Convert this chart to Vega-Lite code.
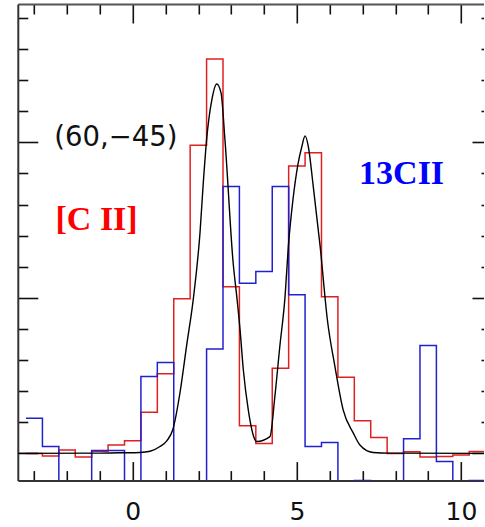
{
  "$schema": "https://vega.github.io/schema/vega-lite/v6.json",
  "autosize": "none",
  "width": 466.2,
  "height": 476.6,
  "padding": {"left": 17.8, "top": 4, "right": 0, "bottom": 46.4},
  "background": "white",
  "config": {"view": {"stroke": null}, "axis": {"grid": false, "title": null, "labels": false, "domain": false, "tickColor": "#111", "tickWidth": 1.6, "domainColor": "#333", "domainWidth": 2}},
  "datasets": {
    "red": [
      {"v": -3.25, "t": 0.0}, {"v": -2.75, "t": -0.08}, {"v": -2.25, "t": 0.11}, {"v": -1.75, "t": -0.12},
      {"v": -1.25, "t": 0.07}, {"v": -0.75, "t": 0.27}, {"v": -0.25, "t": 0.41}, {"v": 0.25, "t": 1.32},
      {"v": 0.75, "t": 2.56}, {"v": 1.25, "t": 4.97}, {"v": 1.75, "t": 9.91}, {"v": 2.25, "t": 12.68},
      {"v": 2.75, "t": 5.36}, {"v": 3.25, "t": 0.89}, {"v": 3.75, "t": 0.32}, {"v": 4.25, "t": 2.74},
      {"v": 4.75, "t": 9.24}, {"v": 5.25, "t": 9.67}, {"v": 5.75, "t": 5.04}, {"v": 6.25, "t": 2.45},
      {"v": 6.75, "t": 1.05}, {"v": 7.25, "t": 0.51}, {"v": 7.75, "t": 0.0}, {"v": 8.25, "t": 0.05},
      {"v": 8.75, "t": -0.12}, {"v": 9.25, "t": -0.1}, {"v": 9.75, "t": -0.05}, {"v": 10.25, "t": 0.06},
      {"v": 10.75, "t": 0.06}
    ],
    "blue": [
      {"v": -3.25, "t": 1.13}, {"v": -2.75, "t": 0.22}, {"v": -2.25, "t": -1.0}, {"v": -1.75, "t": -1.0},
      {"v": -1.25, "t": 0.09}, {"v": -0.75, "t": 0.09}, {"v": -0.25, "t": -1.0}, {"v": 0.25, "t": 2.47},
      {"v": 0.75, "t": 2.92}, {"v": 1.25, "t": -1.0}, {"v": 1.75, "t": -1.0}, {"v": 2.25, "t": 3.36},
      {"v": 2.75, "t": 8.58}, {"v": 3.25, "t": 5.47}, {"v": 3.75, "t": 5.85}, {"v": 4.25, "t": 8.58},
      {"v": 4.75, "t": 5.1}, {"v": 5.25, "t": 0.22}, {"v": 5.75, "t": 0.35}, {"v": 6.25, "t": -1.0},
      {"v": 6.75, "t": -0.875}, {"v": 7.25, "t": -1.0}, {"v": 7.75, "t": -1.0}, {"v": 8.25, "t": 0.47},
      {"v": 8.75, "t": 3.47}, {"v": 9.25, "t": -0.26}, {"v": 9.75, "t": -1.0}, {"v": 10.25, "t": -0.875},
      {"v": 10.75, "t": -0.875}
    ],
    "fit": [
      {"v": -3.5, "t": 0.0}, {"v": -1.0, "t": 0.01}, {"v": -0.39, "t": 0.02}, {"v": 0.22, "t": 0.03},
      {"v": 0.53, "t": 0.07}, {"v": 0.83, "t": 0.22}, {"v": 1.05, "t": 0.42}, {"v": 1.22, "t": 0.76},
      {"v": 1.44, "t": 1.95}, {"v": 1.64, "t": 3.45}, {"v": 1.85, "t": 5.0}, {"v": 2.05, "t": 7.1},
      {"v": 2.15, "t": 8.7}, {"v": 2.25, "t": 10.08}, {"v": 2.41, "t": 11.37}, {"v": 2.56, "t": 11.88}, {"v": 2.69, "t": 11.59},
      {"v": 2.81, "t": 10.08}, {"v": 3.06, "t": 6.12}, {"v": 3.17, "t": 5.04}, {"v": 3.27, "t": 3.97},
      {"v": 3.37, "t": 2.68}, {"v": 3.52, "t": 1.4}, {"v": 3.73, "t": 0.43}, {"v": 3.78, "t": 0.38},
      {"v": 4.18, "t": 0.54}, {"v": 4.33, "t": 1.83}, {"v": 4.48, "t": 3.43}, {"v": 4.64, "t": 5.04},
      {"v": 4.74, "t": 6.65}, {"v": 4.88, "t": 8.15}, {"v": 5.03, "t": 9.28}, {"v": 5.15, "t": 9.86},
      {"v": 5.25, "t": 10.21}, {"v": 5.35, "t": 9.86}, {"v": 5.5, "t": 8.58}, {"v": 5.71, "t": 6.65},
      {"v": 5.93, "t": 4.29}, {"v": 6.16, "t": 2.79}, {"v": 6.41, "t": 1.4}, {"v": 6.72, "t": 0.65},
      {"v": 6.92, "t": 0.27}, {"v": 7.32, "t": 0.03}, {"v": 7.84, "t": 0.01}, {"v": 10.7, "t": 0.0}
    ]
  },
  "resolve": {"axis": {"x": "independent", "y": "independent"}},
  "encoding": {
    "x": {"field": "v", "type": "quantitative", "scale": {"domain": [-3.5, 10.7], "nice": false, "zero": false}},
    "y": {"field": "t", "type": "quantitative", "scale": {"domain": [-0.875, 14.45], "nice": false, "zero": false}}
  },
  "layer": [
    {
      "data": {"name": "red"},
      "mark": {"type": "line", "interpolate": "step-after", "color": "#e02020", "strokeWidth": 1.5, "clip": true},
      "encoding": {
        "x": {"field": "v", "type": "quantitative", "axis": {"orient": "bottom", "values": [-3,-2,-1,0,1,2,3,4,5,6,7,8,9,10], "tickSize": {"condition": {"test": "datum.value % 5 === 0", "value": -19}, "value": -10}, "domain": true}},
        "y": {"field": "t", "type": "quantitative", "axis": {"orient": "left", "values": [0,1,2,3,4,5,6,7,8,9,10,11,12,13,14], "tickSize": {"condition": {"test": "datum.value % 5 === 0", "value": -20}, "value": -10}, "domain": true}}
      }
    },
    {
      "data": {"name": "blue"},
      "mark": {"type": "line", "interpolate": "step-after", "color": "#2020d0", "strokeWidth": 1.5, "clip": true},
      "encoding": {
        "x": {"field": "v", "type": "quantitative", "axis": {"orient": "top", "values": [-3,-2,-1,0,1,2,3,4,5,6,7,8,9,10], "tickSize": {"condition": {"test": "datum.value % 5 === 0", "value": -19}, "value": -10}, "domain": true, "domainColor": "#555"}},
        "y": {"field": "t", "type": "quantitative", "axis": {"orient": "right", "values": [0,1,2,3,4,5,6,7,8,9,10,11,12,13,14], "tickSize": {"condition": {"test": "datum.value % 5 === 0", "value": -12}, "value": -3}}}
      }
    },
    {
      "data": {"name": "fit"},
      "mark": {"type": "line", "interpolate": "monotone", "color": "#000000", "strokeWidth": 1.4, "clip": true},
      "encoding": {
        "x": {"field": "v", "type": "quantitative", "axis": {"orient": "bottom", "values": [0, 5, 10], "ticks": false, "labels": true, "labelFont": "DejaVu Sans", "labelFontSize": 25, "labelColor": "#111", "labelPadding": 19, "labelFlush": false}},
        "y": {"field": "t", "type": "quantitative", "axis": null}
      }
    },
    {
      "data": {"values": [{"v": -0.51, "t": 10.14, "s": "(60,−45)"}]},
      "mark": {"type": "text", "font": "DejaVu Sans", "fontSize": 27.5, "color": "#111", "baseline": "middle", "align": "center"},
      "encoding": {
        "x": {"field": "v", "type": "quantitative", "axis": null},
        "y": {"field": "t", "type": "quantitative", "axis": null},
        "text": {"field": "s"}
      }
    },
    {
      "data": {"values": [{"v": -1.1, "t": 7.19, "s": "[C II]"}]},
      "mark": {"type": "text", "font": "Liberation Serif", "fontSize": 34, "fontWeight": "bold", "color": "#ff0000", "baseline": "alphabetic", "align": "center"},
      "encoding": {
        "x": {"field": "v", "type": "quantitative", "axis": null},
        "y": {"field": "t", "type": "quantitative", "axis": null},
        "text": {"field": "s"}
      }
    },
    {
      "data": {"values": [{"v": 8.19, "t": 8.67, "s": "13CII"}]},
      "mark": {"type": "text", "font": "Liberation Serif", "fontSize": 34, "fontWeight": "bold", "color": "#0000ff", "baseline": "alphabetic", "align": "center"},
      "encoding": {
        "x": {"field": "v", "type": "quantitative", "axis": null},
        "y": {"field": "t", "type": "quantitative", "axis": null},
        "text": {"field": "s"}
      }
    }
  ]
}
